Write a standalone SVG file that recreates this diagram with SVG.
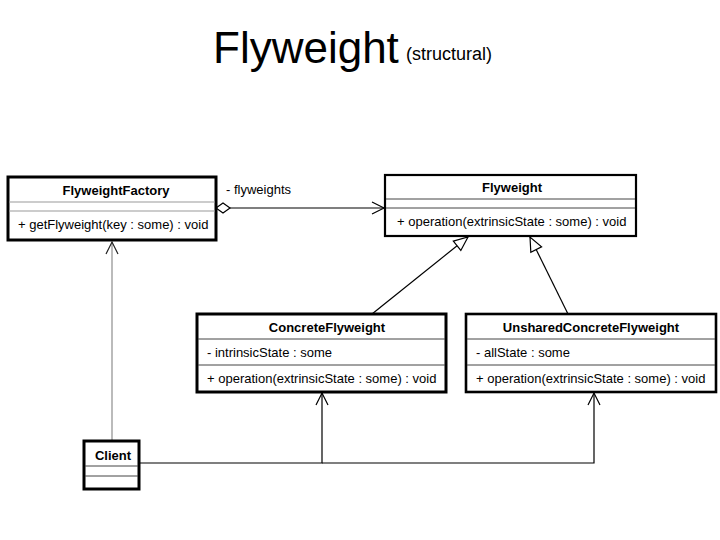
<svg xmlns="http://www.w3.org/2000/svg" width="720" height="540" viewBox="0 0 720 540">
<style>
  text { font-family: "Liberation Sans", Arial, sans-serif; fill: #000; }
  .title { font-size: 44px; }
  .sub { font-size: 18px; }
  .name { font-size: 13px; font-weight: bold; text-anchor: middle; }
  .mem { font-size: 13px; }
  .box { fill: #fff; stroke: #000; stroke-width: 2.6; }
  .sep { stroke: #444; stroke-width: 1; }
  .sepg { stroke: #999; stroke-width: 1.2; }
  .conn { fill: none; stroke: #000; stroke-width: 1.2; }
  .conng { fill: none; stroke: #bbb; stroke-width: 2; }
</style>
<defs>
  <marker id="open" markerUnits="userSpaceOnUse" markerWidth="14" markerHeight="14" refX="12" refY="6" orient="auto" overflow="visible">
    <path d="M0,0 L12,6 L0,12" fill="none" stroke="#000" stroke-width="1.2"/>
  </marker>
  <marker id="openg" markerUnits="userSpaceOnUse" markerWidth="14" markerHeight="14" refX="12" refY="6" orient="auto" overflow="visible">
    <path d="M0,0 L12,6 L0,12" fill="none" stroke="#222" stroke-width="1.2"/>
  </marker>
  <marker id="tri" markerUnits="userSpaceOnUse" markerWidth="16" markerHeight="14" refX="14" refY="6" orient="auto" overflow="visible">
    <path d="M0,0 L14,6 L0,12 Z" fill="#fff" stroke="#000" stroke-width="1.2"/>
  </marker>
  <marker id="dia" markerUnits="userSpaceOnUse" markerWidth="16" markerHeight="12" refX="0" refY="6" orient="auto" overflow="visible">
    <path d="M0,6 L7,1 L14,6 L7,11 Z" fill="#fff" stroke="#000" stroke-width="1.2"/>
  </marker>
</defs>

<rect width="720" height="540" fill="#fff"/>

<g id="title">
  <text class="title" x="213" y="63">Flyweight</text>
  <text class="sub" x="406" y="60">(structural)</text>
</g>

<g id="connectors">
  <path class="conn" d="M216,208 H384" marker-start="url(#dia)" marker-end="url(#open)"/>
  <text class="mem" x="226" y="194">- flyweights</text>
  <path class="conn" d="M372,314 L468,237" marker-end="url(#tri)"/>
  <path class="conn" d="M568,314 L530,237" marker-end="url(#tri)"/>
  <path class="conng" d="M112,441 V242" marker-end="url(#openg)"/>
  <path class="conn" d="M139,463 H322 V393" marker-end="url(#open)"/>
  <path class="conn" d="M322,463 H594 V393" marker-end="url(#open)"/>
</g>

<g id="FlyweightFactory">
  <rect class="box" x="8" y="177" width="208" height="63" style="stroke-width:3"/>
  <text class="name" x="116" y="195">FlyweightFactory</text>
  <line class="sepg" x1="9" y1="202" x2="215" y2="202"/>
  <line class="sepg" x1="9" y1="211" x2="215" y2="211"/>
  <text class="mem" x="18" y="229">+ getFlyweight(key : some) : void</text>
</g>

<g id="Flyweight">
  <rect class="box" x="385" y="175" width="251" height="61" style="stroke-width:2.2"/>
  <text class="name" x="512" y="192">Flyweight</text>
  <line class="sep" x1="386" y1="199" x2="635" y2="199"/>
  <line class="sep" x1="386" y1="208" x2="635" y2="208"/>
  <text class="mem" x="397" y="226">+ operation(extrinsicState : some) : void</text>
</g>

<g id="ConcreteFlyweight">
  <rect class="box" x="197" y="314" width="249" height="78" style="stroke-width:3"/>
  <text class="name" x="327" y="332">ConcreteFlyweight</text>
  <line class="sep" x1="198" y1="339" x2="445" y2="339"/>
  <text class="mem" x="207" y="357">- intrinsicState : some</text>
  <line class="sep" x1="198" y1="365" x2="445" y2="365"/>
  <text class="mem" x="207" y="383">+ operation(extrinsicState : some) : void</text>
</g>

<g id="UnsharedConcreteFlyweight">
  <rect class="box" x="466" y="314" width="250" height="78"/>
  <text class="name" x="591" y="332">UnsharedConcreteFlyweight</text>
  <line class="sep" x1="467" y1="339" x2="715" y2="339"/>
  <text class="mem" x="476" y="357">- allState : some</text>
  <line class="sep" x1="467" y1="365" x2="715" y2="365"/>
  <text class="mem" x="476" y="383">+ operation(extrinsicState : some) : void</text>
</g>

<g id="Client">
  <rect class="box" x="84" y="441" width="55" height="48" style="stroke-width:3"/>
  <text class="name" x="113" y="460">Client</text>
  <line class="sep" x1="85" y1="466" x2="138" y2="466"/>
  <line class="sep" x1="85" y1="476" x2="138" y2="476"/>
</g>
</svg>
